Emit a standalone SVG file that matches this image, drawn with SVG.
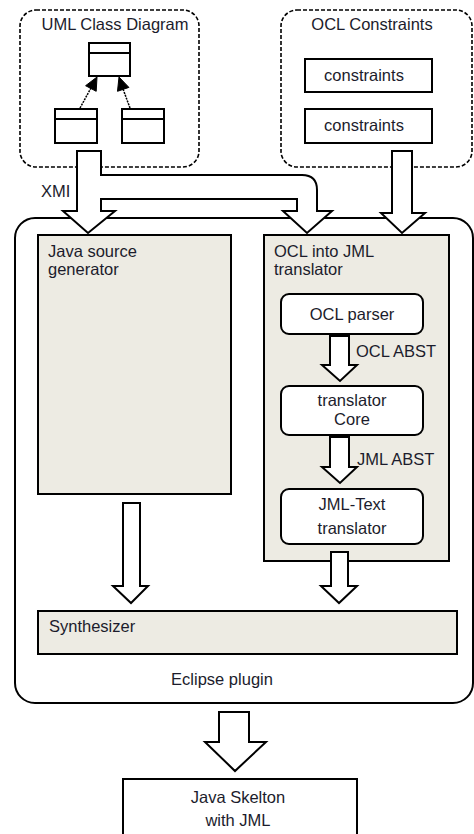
<svg xmlns="http://www.w3.org/2000/svg" width="474" height="834" viewBox="0 0 474 834">
<style>
text{font-family:"Liberation Sans",Arial,sans-serif;font-size:16.5px;fill:#1c1c2c}
.mid{text-anchor:middle}
.dash{fill:#fff;stroke:#000;stroke-width:1.6;stroke-dasharray:4 2}
.box{fill:#fff;stroke:#000;stroke-width:2}
.grey{fill:#edebe3;stroke:#000;stroke-width:2}
.arr{fill:#fff;stroke:#000;stroke-width:2;stroke-linejoin:miter}
.cls{fill:#fff;stroke:#000;stroke-width:2}
.dot{stroke:#000;stroke-width:1.5;stroke-dasharray:2 1}
.head{fill:#000;stroke:#000;stroke-width:1}
</style>
<rect width="474" height="834" fill="#fff"/>

<g id="eclipse-plugin">
<rect x="15" y="218" width="458" height="485" rx="20" class="box"/>
<text x="222" y="685" class="mid" font-size="19">Eclipse plugin</text>
</g>

<g id="uml-class-diagram">
<rect x="20" y="10" width="179" height="157" rx="16" class="dash"/>
<text x="115" y="30" class="mid" font-size="15.5">UML Class Diagram</text>
<rect x="89" y="43" width="41" height="33" class="cls"/>
<line x1="89" y1="53" x2="130" y2="53" stroke="#000" stroke-width="2"/>
<rect x="55" y="109" width="42" height="34" class="cls"/>
<line x1="55" y1="119" x2="97" y2="119" stroke="#000" stroke-width="2"/>
<rect x="122" y="109" width="42" height="34" class="cls"/>
<line x1="122" y1="119" x2="164" y2="119" stroke="#000" stroke-width="2"/>
<line x1="80" y1="108" x2="91" y2="88" class="dot"/>
<polygon points="97,77 96.2,91.3 85.6,85.7" class="head"/>
<line x1="130" y1="108" x2="123" y2="89" class="dot"/>
<polygon points="119,77 128.9,87.4 117.5,91.3" class="head"/>
</g>

<g id="ocl-constraints">
<rect x="281" y="10" width="191" height="157" rx="16" class="dash"/>
<text x="372" y="30" class="mid" font-size="15.5">OCL Constraints</text>
<rect x="305" y="59" width="127" height="33" class="cls" stroke-width="1.6"/>
<text x="364" y="81" class="mid">constraints</text>
<rect x="305" y="109" width="127" height="34" class="cls" stroke-width="1.6"/>
<text x="364" y="131" class="mid">constraints</text>
</g>

<g id="java-source-generator">
<rect x="38" y="235" width="193" height="259" class="grey"/>
<text x="48" y="257">Java source</text>
<text x="48" y="275">generator</text>
</g>

<g id="ocl-into-jml-translator">
<rect x="264" y="235" width="185" height="326" class="grey"/>
<text x="274" y="257">OCL into JML</text>
<text x="274" y="275">translator</text>
</g>

<g id="ocl-parser">
<rect x="281" y="294" width="142" height="40" rx="8" class="box" stroke-width="1.6"/>
<text x="352" y="320" class="mid">OCL parser</text>
</g>

<g id="translator-core">
<rect x="281" y="386" width="142" height="49" rx="8" class="box" stroke-width="1.6"/>
<text x="352" y="406" class="mid">translator</text>
<text x="352" y="425" class="mid">Core</text>
</g>

<g id="jml-text-translator">
<rect x="281" y="489" width="142" height="55" rx="8" class="box" stroke-width="1.6"/>
<text x="352" y="510" class="mid">JML-Text</text>
<text x="352" y="534" class="mid">translator</text>
</g>

<g id="synthesizer">
<rect x="38" y="611" width="419" height="43" class="grey"/>
<text x="49" y="632">Synthesizer</text>
</g>

<g id="java-skelton">
<rect x="123" y="779" width="234" height="60" class="box"/>
<text x="238" y="803" class="mid">Java Skelton</text>
<text x="238" y="826" class="mid">with JML</text>
</g>

<g id="connectors">
<path class="arr" d="M77,151 L77,211 L63,211 L88,233 L115,211 L101,211 L101,199 L297,199 L297,211 L283,211 L307,233 L332,211 L317,211 L317,190 Q317,175 302,175 L101,175 L101,151 Z"/>
<text x="41" y="197">XMI</text>
<path class="arr" d="M392,151 L392,213 L381,213 L402,233 L425,213 L412,213 L412,151 Z"/>
<path class="arr" d="M330,336 L330,365 L322,365 L340,381 L357,365 L349,365 L349,336 Z"/>
<text x="356" y="357" font-size="14">OCL  ABST</text>
<path class="arr" d="M330,437 L330,467 L322,467 L340,483 L357,467 L349,467 L349,437 Z"/>
<text x="357" y="465" font-size="14">JML  ABST</text>
<path class="arr" d="M331,552 L331,586 L321,586 L339,603 L357,586 L348,586 L348,552 Z"/>
<path class="arr" d="M123,503 L123,586 L113,586 L131,603 L148,586 L140,586 L140,503 Z"/>
<path class="arr" d="M219,712 L219,742 L205,742 L235,771 L266,742 L249,742 L249,712 Z"/>
</g>
</svg>
